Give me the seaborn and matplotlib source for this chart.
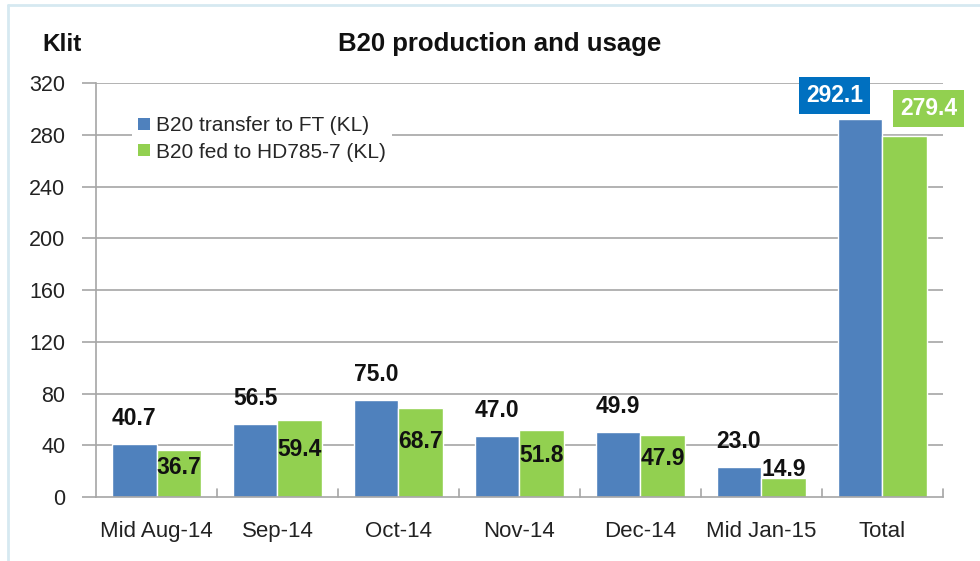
import matplotlib
matplotlib.use("Agg")
import matplotlib.pyplot as plt
import seaborn as sns
import pandas as pd
from matplotlib.patches import Patch
from matplotlib.lines import Line2D

categories = ["Mid Aug-14", "Sep-14", "Oct-14", "Nov-14", "Dec-14", "Mid Jan-15", "Total"]
transfer_ft = [40.7, 56.5, 75.0, 47.0, 49.9, 23.0, 292.1]
fed_hd785 = [36.7, 59.4, 68.7, 51.8, 47.9, 14.9, 279.4]
series_names = ["B20 transfer to FT (KL)", "B20 fed to HD785-7 (KL)"]
yticks = [0, 40, 80, 120, 160, 200, 240, 280, 320]

blue = "#4F81BD"
green = "#92D050"
grid_col = "#A6A6A6"

df = pd.DataFrame({
    "month": categories * 2,
    "value": transfer_ft + fed_hd785,
    "series": [series_names[0]] * len(categories) + [series_names[1]] * len(categories),
})

sns.set_style("white")
plt.rcParams["font.family"] = ["Liberation Sans", "DejaVu Sans"]

fig = plt.figure(figsize=(9.8, 5.61), dpi=100)
ax = fig.add_axes([0.098, 0.114, 0.864, 0.738])

sns.barplot(data=df, x="month", y="value", hue="series", order=categories,
            hue_order=series_names, palette=[blue, green], width=0.74,
            saturation=1, ax=ax, legend=False)

ax.set_ylim(0, 320)
ax.set_xlim(-0.5, len(categories) - 0.5)
ax.set_yticks(yticks)
ax.set_yticklabels([str(t) for t in yticks], fontsize=15.5, color="#222222")
ax.set_xticks(range(len(categories)))
ax.set_xticklabels(categories, fontsize=16, color="#222222")
ax.set_xlabel("")
ax.set_ylabel("")

# gridlines and axis styling
for t in yticks[1:]:
    ax.axhline(t, color=grid_col, lw=1.2, zorder=0)
for side in ["top", "right"]:
    ax.spines[side].set_visible(False)
for side in ["left", "bottom"]:
    ax.spines[side].set_color(grid_col)
    ax.spines[side].set_linewidth(1.2)
ax.tick_params(axis="y", length=10, width=1.2, color=grid_col, pad=12, left=True)
ax.tick_params(axis="x", length=0, pad=17)
# category separator ticks pointing upward
for i in range(len(categories)):
    ax.plot([i + 0.5, i + 0.5], [0, 6], color=grid_col, lw=1.2, clip_on=False)

blue_bars, green_bars = ax.containers[0], ax.containers[1]
last = len(categories) - 1
lab_kw = dict(ha="center", va="center", fontsize=16.5, fontweight="bold")
for i, (b, v) in enumerate(zip(blue_bars, transfer_ft)):
    cx = b.get_x() + b.get_width() / 2
    if i == last:
        ax.text(cx - 0.21, v + 18, f"{v:.1f}", color="white",
                bbox=dict(boxstyle="square,pad=0.3", fc="#0070C0", ec="none"), **lab_kw)
    else:
        ax.text(cx, v + 20, f"{v:.1f}", color="#111111", **lab_kw)
for i, (b, v) in enumerate(zip(green_bars, fed_hd785)):
    cx = b.get_x() + b.get_width() / 2
    if i == last:
        ax.text(cx + 0.2, v + 21, f"{v:.1f}", color="white",
                bbox=dict(boxstyle="square,pad=0.3", fc=green, ec="none"), **lab_kw)
    else:
        ax.text(cx, max(0.62 * v, 21), f"{v:.1f}", color="#111111", **lab_kw)

handles = [Patch(facecolor=blue, edgecolor="none"), Patch(facecolor=green, edgecolor="none")]
leg = ax.legend(handles, series_names, loc="upper left", bbox_to_anchor=(0.03, 0.96),
                frameon=True, fontsize=15, handlelength=0.55, handleheight=0.55,
                handletextpad=0.3, labelspacing=0.35, borderpad=0.3)
leg.get_frame().set_facecolor("white")
leg.get_frame().set_edgecolor("none")
leg.get_frame().set_alpha(1)
leg.set_zorder(5)

fig.text(0.51, 0.921, "B20 production and usage", ha="center", va="center",
         fontsize=18.5, fontweight="bold", color="#111111")
fig.text(0.063, 0.921, "Klit", ha="center", va="center",
         fontsize=17.5, fontweight="bold", color="#111111")

# light frame around the chart area
border = "#D6E9F1"
fig.add_artist(Line2D([0.008, 0.008], [0, 0.991], color=border, lw=2, transform=fig.transFigure))
fig.add_artist(Line2D([0.008, 1.0], [0.991, 0.991], color=border, lw=2, transform=fig.transFigure))

fig.savefig("out.png", dpi=100, facecolor="white")
